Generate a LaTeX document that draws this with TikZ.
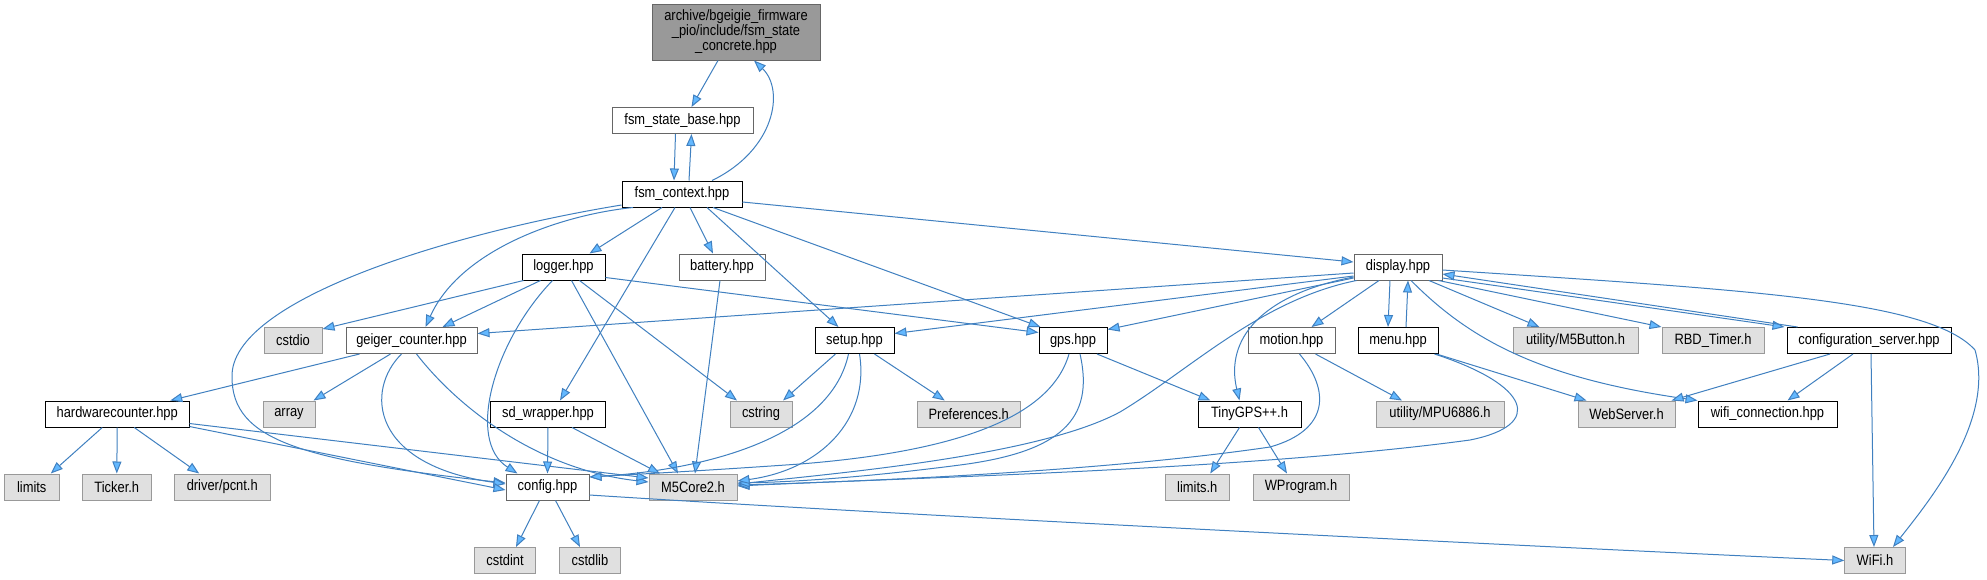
\documentclass[tikz,border=0pt]{standalone}
\usepackage{fontspec}
\setmainfont{Liberation Sans}[FakeStretch=0.86]
\usetikzlibrary{arrows.meta}
\definecolor{extfill}{HTML}{E0E0E0}
\definecolor{extdraw}{HTML}{999999}
\definecolor{mainfill}{HTML}{999999}
\definecolor{edgec}{HTML}{4080C0}
\definecolor{arrf}{HTML}{63B8FF}
\tikzset{
  base/.style={rectangle, minimum height=26pt, inner sep=0pt, line width=1pt, font=\fontsize{15}{15}\selectfont},
  dn/.style={base, draw=black, fill=white},
  ln/.style={base, draw=black!60, fill=white},
  xn/.style={base, draw=extdraw, fill=extfill},
  edg/.style={draw=edgec, line width=1pt, -{Triangle[length=12pt,width=9pt,fill=arrf]}}
}
\begin{document}
\begin{tikzpicture}[x=1pt,y=-1pt]
\useasboundingbox[fill=white] (0,0) rectangle (1987,579);
% rank 0
\node[base, draw=black!60, fill=mainfill, minimum width=168pt, minimum height=56pt, align=center] (archive) at (736,32) {archive/bgeigie\_firmware\\\_pio/include/fsm\_state\\\_concrete.hpp};
% rank 1
\node[ln, minimum width=141pt] (fsmbase) at (682.5,120.5) {fsm\_state\_base.hpp};
% rank 2
\node[dn, minimum width=120pt] (fsmctx) at (682,194) {fsm\_context.hpp};
% rank 3
\node[dn, minimum width=83pt] (logger) at (563.5,267) {logger.hpp};
\node[ln, minimum width=86pt] (battery) at (722,267) {battery.hpp};
\node[ln, minimum width=88pt] (display) at (1398,267) {display.hpp};
% rank 4
\node[xn, minimum width=58pt] (cstdio) at (293,340.5) {cstdio};
\node[ln, minimum width=131pt] (geiger) at (411.5,340.5) {geiger\_counter.hpp};
\node[dn, minimum width=79pt] (setup) at (854.5,340.5) {setup.hpp};
\node[dn, minimum width=68pt] (gps) at (1073,340.5) {gps.hpp};
\node[ln, minimum width=87pt] (motion) at (1291.5,340.5) {motion.hpp};
\node[dn, minimum width=80pt] (menu) at (1398,340.5) {menu.hpp};
\node[xn, minimum width=125pt] (m5button) at (1575.5,340.5) {utility/M5Button.h};
\node[xn, minimum width=102pt] (rbd) at (1713,340.5) {RBD\_Timer.h};
\node[dn, minimum width=164pt] (confserver) at (1869,340.5) {configuration\_server.hpp};
% rank 5
\node[dn, minimum width=143.5pt] (hwcounter) at (117.25,414) {hardwarecounter.hpp};
\node[xn, minimum width=52pt] (array) at (289,414) {array};
\node[dn, minimum width=115pt] (sdwrapper) at (548,414) {sd\_wrapper.hpp};
\node[xn, minimum width=62pt] (cstring) at (761,414) {cstring};
\node[xn, minimum width=103.5pt] (prefs) at (968.75,414) {Preferences.h};
\node[dn, minimum width=103pt] (tinygps) at (1249.5,414) {TinyGPS++.h};
\node[xn, minimum width=128pt] (mpu) at (1440,414) {utility/MPU6886.h};
\node[xn, minimum width=97pt] (webserver) at (1626.5,414) {WebServer.h};
\node[dn, minimum width=139pt] (wificonn) at (1767.5,414) {wifi\_connection.hpp};
% rank 6
\node[xn, minimum width=54.5pt] (limits) at (31.75,487) {limits};
\node[xn, minimum width=68.4pt] (ticker) at (116.8,487) {Ticker.h};
\node[xn, minimum width=95.5pt] (pcnt) at (222.25,487) {driver/pcnt.h};
\node[ln, minimum width=83pt] (config) at (547.5,487) {config.hpp};
\node[xn, minimum width=88pt] (m5core2) at (693,487) {M5Core2.h};
\node[xn, minimum width=64.5pt] (limitsh) at (1197.25,487) {limits.h};
\node[xn, minimum width=96pt] (wprogram) at (1301,487) {WProgram.h};
% rank 7
\node[xn, minimum width=61pt] (cstdint) at (505,560.5) {cstdint};
\node[xn, minimum width=60.5pt] (cstdlib) at (590,560.5) {cstdlib};
\node[xn, minimum width=60.5pt] (wifih) at (1875,560.5) {WiFi.h};

% ---- edges ----
\draw[edg] ([xshift=-18pt]archive.south) -- ([xshift=9pt]fsmbase.north);
\draw[edg] ([xshift=30pt]fsmctx.north) .. controls (775,150) and (785,90) .. ([xshift=18pt]archive.south);
\draw[edg] ([xshift=-7pt]fsmbase.south) -- ([xshift=-8pt]fsmctx.north);
\draw[edg] ([xshift=7pt]fsmctx.north) -- ([xshift=9pt]fsmbase.south);
% fsm_context
\draw[edg] ([xshift=-20pt]fsmctx.south) -- ([xshift=26pt]logger.north);
\draw[edg] ([xshift=8pt]fsmctx.south) -- ([xshift=-9pt]battery.north);
\draw[edg] ([yshift=-8pt]fsmctx.east) -- ([yshift=5pt]display.west);
\draw[edg] ([xshift=-49pt]fsmctx.south) .. controls (560,215) and (460,250) .. ([xshift=14pt]geiger.north);
\draw[edg] ([yshift=-11pt]fsmctx.west) .. controls (450,233) and (230,300) .. (232,377) .. controls (232,440) and (300,460) .. ([yshift=4pt]config.west);
\draw[edg] ([xshift=-7pt]fsmctx.south) -- ([xshift=12pt]sdwrapper.north);
\draw[edg] ([xshift=25pt]fsmctx.south) -- ([xshift=-16pt]setup.north);
\draw[edg] ([xshift=31pt]fsmctx.south) -- ([xshift=2pt]gps.north west);
% logger
\draw[edg] ([xshift=2pt]logger.south west) -- ([yshift=-2pt]cstdio.north east);
\draw[edg] ([xshift=-23pt]logger.south) -- ([xshift=31pt]geiger.north);
\draw[edg] ([xshift=-11pt]logger.south) .. controls (495,340) and (465,440) .. ([xshift=-30pt]config.north);
\draw[edg] ([xshift=8pt]logger.south) -- ([xshift=-15pt]m5core2.north);
\draw[edg] ([xshift=16pt]logger.south) -- ([xshift=-24pt]cstring.north);
\draw[edg] ([yshift=3pt]logger.south east) -- ([yshift=8pt]gps.west);
% battery
\draw[edg] ([xshift=-2pt]battery.south) -- ([xshift=2pt]m5core2.north);
% display
\draw[edg] ([yshift=-6pt]display.west) -- ([yshift=7pt]geiger.east);
\draw[edg] ([yshift=-9pt]display.west) -- ([yshift=7pt]setup.east);
\draw[edg] ([yshift=-11pt]display.west) -- ([yshift=11pt]gps.east);
\draw[edg] ([xshift=3pt]display.south west) .. controls (1260,300) and (1190,370) .. (1120,412) .. controls (1040,455) and (850,472) .. ([yshift=3pt]m5core2.east);
\draw[edg] ([yshift=-10pt]display.west) .. controls (1260,295) and (1225,340) .. ([xshift=-10pt]tinygps.north);
\draw[edg] ([xshift=-19pt]display.south) -- ([xshift=20pt]motion.north);
\draw[edg] ([xshift=-8pt]display.south) -- ([xshift=-10pt]menu.north);
\draw[edg] ([xshift=8pt]menu.north) -- ([xshift=10pt]display.south);
\draw[edg] ([xshift=31pt]display.south) -- ([xshift=-36pt]m5button.north);
\draw[edg] ([xshift=-4pt]display.south east) -- (rbd.north west);
\draw[edg] ([yshift=-11pt]display.east) -- ([xshift=-2pt]confserver.north west);
\draw[edg] ([xshift=11pt]confserver.north west) -- ([yshift=-7pt]display.east);
\draw[edg] ([xshift=13pt]display.south) .. controls (1470,340) and (1540,378) .. (wificonn.north west);
\draw[edg] ([yshift=-3pt]display.east) .. controls (1750,290) and (1930,300) .. (1975,350) .. controls (1995,420) and (1930,500) .. ([xshift=18pt]wifih.north);
% configuration_server
\draw[edg] ([xshift=-39pt]confserver.south) -- ([xshift=45pt]webserver.north);
\draw[edg] ([xshift=-16pt]confserver.south) -- ([xshift=20pt]wificonn.north);
\draw[edg] ([xshift=2pt]confserver.south) -- ([xshift=-1pt]wifih.north);
% menu
\draw[edg] ([xshift=-2pt]menu.south east) -- ([xshift=-40pt]webserver.north);
\draw[edg] ([xshift=-4pt]menu.south east) .. controls (1530,385) and (1545,425) .. (1470,440) .. controls (1250,470) and (900,478) .. ([yshift=1pt]m5core2.east);
% motion
\draw[edg] ([xshift=24pt]motion.south) -- ([xshift=-38pt]mpu.north);
\draw[edg] ([xshift=8pt]motion.south) .. controls (1330,390) and (1330,430) .. (1270,447) .. controls (1100,472) and (850,482) .. ([yshift=2pt]m5core2.east);
% gps
\draw[edg] ([xshift=24pt]gps.south) -- ([xshift=-39pt]tinygps.north);
\draw[edg] ([xshift=7pt]gps.south) .. controls (1095,420) and (1060,452) .. (960,465) .. controls (860,478) and (790,482) .. ([yshift=4pt]m5core2.east);
\draw[edg] ([xshift=-4pt]gps.south) .. controls (1050,420) and (950,452) .. (800,464) .. controls (700,471) and (640,474) .. ([yshift=10pt]config.east);
% setup
\draw[edg] ([xshift=-19pt]setup.south) -- ([xshift=22pt]cstring.north);
\draw[edg] ([xshift=20pt]setup.south) -- ([xshift=-24pt]prefs.north);
\draw[edg] ([xshift=-6pt]setup.south) .. controls (830,440) and (700,470) .. ([yshift=10pt]config.east);
\draw[edg] ([xshift=5pt]setup.south) .. controls (870,420) and (820,470) .. ([yshift=6pt]m5core2.east);
% geiger_counter
\draw[edg] ([xshift=-52pt]geiger.south) -- ([xshift=53pt]hwcounter.north);
\draw[edg] ([xshift=-21pt]geiger.south) -- ([xshift=-2pt]array.north east);
\draw[edg] ([xshift=-10pt]geiger.south) .. controls (365,390) and (370,465) .. ([yshift=3pt]config.west);
\draw[edg] ([xshift=5pt]geiger.south) .. controls (460,410) and (540,470) .. ([yshift=5pt]m5core2.west);
% hardwarecounter
\draw[edg] ([xshift=-15pt]hwcounter.south) -- ([xshift=19pt]limits.north);
\draw[edg] (hwcounter.south) -- (ticker.north);
\draw[edg] ([xshift=17pt]hwcounter.south) -- ([xshift=-23pt]pcnt.north);
\draw[edg] ([yshift=1pt]hwcounter.south east) -- ([yshift=-3pt]config.west);
\draw[edg] ([yshift=4pt]hwcounter.south east) -- ([yshift=9pt]m5core2.west);
% sd_wrapper
\draw[edg] (sdwrapper.south) -- (config.north);
\draw[edg] ([xshift=24pt]sdwrapper.south) -- ([xshift=-33pt]m5core2.north);
% config
\draw[edg] ([xshift=-8pt]config.south) -- ([xshift=11pt]cstdint.north);
\draw[edg] ([xshift=8pt]config.south) -- ([xshift=-10pt]cstdlib.north);
\draw[edg] ([yshift=-8pt]config.east) .. controls (900,515) and (1500,545) .. (wifih.west);
% TinyGPS++
\draw[edg] ([xshift=-10pt]tinygps.south) -- ([xshift=13pt]limitsh.north);
\draw[edg] ([xshift=9pt]tinygps.south) -- ([xshift=-14pt]wprogram.north);
\end{tikzpicture}
\end{document}
